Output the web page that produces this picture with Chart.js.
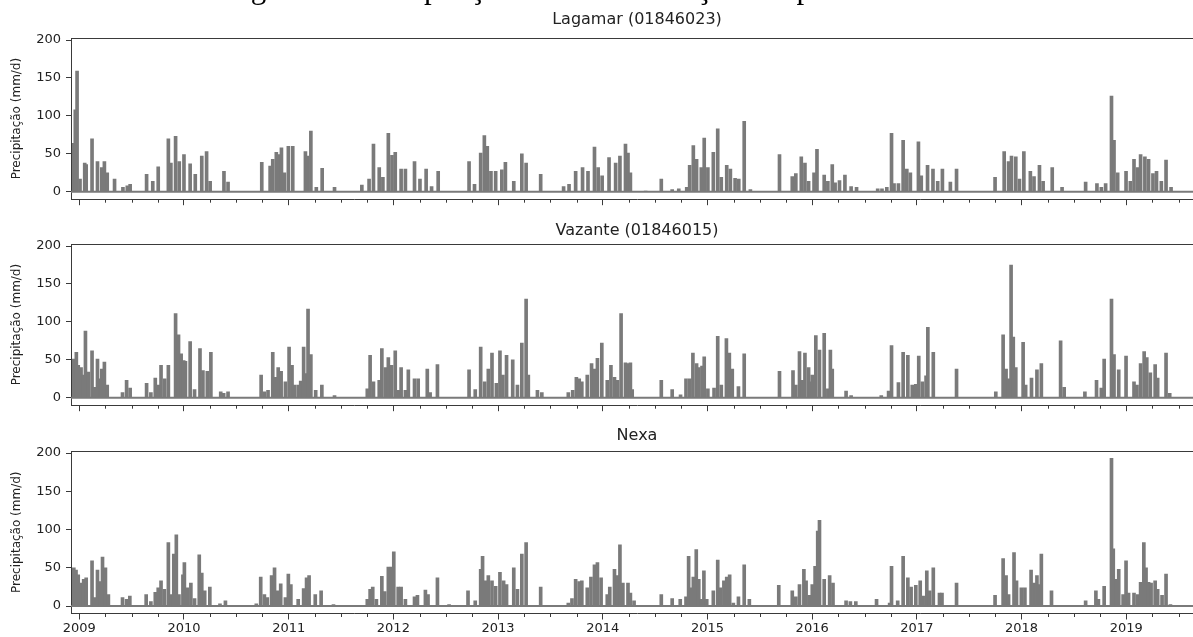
<!DOCTYPE html>
<html>
<head>
<meta charset="utf-8">
<script src="https://cdn.jsdelivr.net/npm/chart.js@4/dist/chart.umd.min.js"></script>
<style>
  html, body { margin: 0; padding: 0; background: #fff; }
  body { width: 1193px; height: 637px; overflow: hidden; position: relative; }
  .box { position: absolute; left: 0; width: 1203px; }
  #caption { position: absolute; left: 225px; top: -28px; font-family: 'Liberation Serif', serif; font-size: 31px; line-height: 31px; color: #000; white-space: nowrap; z-index: 5; }
</style>
</head>
<body>
<div id="caption">Figura 3 – Precipitação diária nas estações de pluviometria</div>
<div class="box" style="top:0px;height:212px"><canvas id="c1"></canvas></div>
<div class="box" style="top:206px;height:212px"><canvas id="c2"></canvas></div>
<div class="box" style="top:413px;height:224px"><canvas id="c3"></canvas></div>
<script>
// ---------------- data (decimal year, mm/d) ----------------
const stationTitles = ["Lagamar (01846023)", "Vazante (01846015)", "Nexa"];
const yAxisLabel = "Precipitação (mm/d)";
const yearTicks = [2009, 2010, 2011, 2012, 2013, 2014, 2015, 2016, 2017, 2018, 2019];
const yTicks = [0, 50, 100, 150, 200];
const xLimits = [2008.921, 2019.733];
const yLimits = [-9.65, 202.65];

const lagamarDates = [2008.948,2008.962,2008.979,2009.007,2009.052,2009.066,2009.122,2009.174,2009.215,2009.240,2009.267,2009.337,2009.417,2009.459,2009.486,
2009.643,2009.702,2009.754,2009.851,2009.875,2009.920,2009.955,2010.000,2010.059,2010.108,2010.170,2010.216,2010.250,2010.382,2010.421,
2010.743,2010.823,2010.848,2010.882,2010.907,2010.931,2010.959,2010.997,2011.039,2011.160,2011.178,2011.212,2011.264,2011.320,2011.438,
2011.699,2011.768,2011.810,2011.865,2011.900,2011.952,2011.987,2012.018,2012.074,2012.115,2012.202,2012.254,2012.313,2012.365,2012.428,
2012.723,2012.775,2012.834,2012.869,2012.897,2012.932,2012.977,2013.036,2013.070,2013.150,2013.227,2013.268,2013.407,
2013.626,2013.678,2013.741,2013.807,2013.859,2013.921,2013.956,2013.994,2014.060,2014.123,2014.164,2014.217,2014.241,2014.264,2014.410,
2014.559,2014.663,2014.726,2014.802,2014.830,2014.865,2014.896,2014.941,2014.969,2015.004,2015.056,2015.098,2015.132,2015.184,2015.219,2015.264,2015.299,2015.351,2015.410,
2015.688,2015.810,2015.844,2015.896,2015.931,2015.966,2016.018,2016.046,2016.115,2016.150,2016.192,2016.219,2016.261,2016.313,2016.372,2016.424,
2016.626,2016.667,2016.713,2016.758,2016.782,2016.824,2016.869,2016.904,2016.938,2017.015,2017.042,2017.102,2017.154,2017.199,2017.244,2017.320,2017.379,
2017.747,2017.834,2017.876,2017.904,2017.945,2017.980,2018.022,2018.084,2018.119,2018.171,2018.206,2018.293,2018.387,
2018.612,2018.720,2018.762,2018.803,2018.859,2018.883,2018.918,2018.998,2019.039,2019.074,2019.109,2019.137,2019.178,2019.213,2019.255,2019.289,2019.335,2019.380,2019.428];
const lagamarValues = [64,108,159,17,38,36,70,40,32,40,25,17,6,8,10,
23,14,33,70,38,73,40,49,37,23,47,53,14,27,13,
39,34,43,52,49,58,25,60,60,53,47,80,6,31,6,
9,17,63,32,19,77,48,52,30,30,40,17,30,7,27,
40,10,51,74,60,27,27,29,39,14,50,38,23,
7,10,27,32,27,59,32,21,45,38,47,63,51,25,1,
17,3,4,6,35,61,43,32,71,32,52,83,19,35,30,18,17,93,3,
49,20,24,46,38,14,25,56,22,14,36,12,15,22,7,6,
4,4,6,77,11,11,68,30,25,66,21,35,30,14,30,13,30,
19,53,40,47,46,17,53,27,20,35,14,32,6,
13,11,6,11,126,68,25,27,14,43,32,49,46,43,24,27,14,42,6];

const vazanteDates = [2008.948,2008.972,2008.990,2009.017,2009.042,2009.059,2009.087,2009.122,2009.146,2009.174,2009.198,2009.215,2009.240,2009.267,2009.413,2009.452,2009.486,
2009.643,2009.684,2009.726,2009.754,2009.781,2009.816,2009.851,2009.920,2009.948,2009.973,2009.997,2010.014,2010.059,2010.101,2010.153,2010.181,2010.223,2010.257,2010.351,2010.379,2010.421,
2010.737,2010.768,2010.803,2010.848,2010.875,2010.900,2010.928,2010.969,2011.004,2011.032,2011.056,2011.091,2011.115,2011.143,2011.164,2011.185,2011.212,2011.258,2011.317,2011.438,
2011.751,2011.778,2011.810,2011.865,2011.890,2011.924,2011.952,2011.983,2012.018,2012.046,2012.074,2012.115,2012.143,2012.202,2012.237,2012.324,2012.351,2012.421,
2012.723,2012.782,2012.834,2012.872,2012.907,2012.942,2012.984,2013.018,2013.046,2013.081,2013.140,2013.185,2013.227,2013.268,2013.289,2013.376,2013.418,
2013.671,2013.713,2013.748,2013.775,2013.800,2013.852,2013.893,2013.921,2013.949,2013.991,2014.043,2014.078,2014.112,2014.140,2014.175,2014.217,2014.241,2014.264,2014.281,
2014.559,2014.663,2014.743,2014.795,2014.830,2014.861,2014.896,2014.917,2014.948,2014.969,2015.004,2015.063,2015.098,2015.132,2015.181,2015.209,2015.237,2015.296,2015.351,
2015.688,2015.817,2015.844,2015.879,2015.907,2015.931,2015.966,2015.983,2016.001,2016.035,2016.070,2016.115,2016.150,2016.174,2016.192,2016.324,2016.372,
2016.660,2016.730,2016.758,2016.824,2016.869,2016.914,2016.956,2016.990,2017.018,2017.053,2017.088,2017.105,2017.157,2017.379,
2017.754,2017.824,2017.852,2017.876,2017.900,2017.921,2017.945,2018.015,2018.039,2018.095,2018.147,2018.189,2018.373,2018.407,
2018.605,2018.716,2018.762,2018.789,2018.859,2018.883,2018.928,2018.998,2019.074,2019.102,2019.137,2019.171,2019.196,2019.230,2019.276,2019.300,2019.380,2019.415];
const vazanteValues = [51,60,43,40,30,88,34,62,14,51,25,38,47,17,7,23,13,
19,7,26,17,43,25,43,111,83,58,49,48,74,11,65,36,35,60,8,6,8,
30,8,10,60,27,40,35,21,67,43,17,17,22,67,32,117,57,10,17,3,
12,56,21,23,65,40,53,43,62,10,40,10,37,25,25,38,7,44,
37,11,67,21,38,59,19,62,30,56,50,17,72,130,30,10,7,
7,10,27,25,21,30,45,38,52,72,23,43,27,23,111,46,45,46,11,
23,11,4,25,25,59,45,40,42,54,12,13,81,17,78,59,38,15,58,
35,36,17,61,23,59,40,21,30,82,63,85,12,63,38,9,3,
3,9,69,20,60,56,17,18,55,21,29,93,60,38,
8,83,38,25,175,80,40,73,17,26,37,45,75,14,
8,23,13,51,130,57,37,55,21,17,45,61,53,33,44,26,59,6];

const nexaDates = [2008.948,2008.969,2008.990,2009.017,2009.042,2009.066,2009.122,2009.146,2009.174,2009.198,2009.222,2009.250,2009.278,2009.413,2009.452,2009.483,
2009.639,2009.684,2009.726,2009.754,2009.781,2009.813,2009.851,2009.875,2009.903,2009.927,2009.952,2009.990,2010.004,2010.032,2010.066,2010.101,2010.146,2010.170,2010.198,2010.247,2010.344,2010.396,
2010.691,2010.733,2010.768,2010.796,2010.837,2010.865,2010.893,2010.924,2010.969,2010.997,2011.021,2011.091,2011.143,2011.171,2011.195,2011.254,2011.310,2011.428,
2011.751,2011.778,2011.803,2011.838,2011.890,2011.917,2011.952,2011.983,2012.004,2012.046,2012.074,2012.115,2012.202,2012.230,2012.306,2012.331,2012.421,2012.532,
2012.713,2012.782,2012.834,2012.852,2012.879,2012.907,2012.942,2012.977,2013.018,2013.053,2013.081,2013.150,2013.185,2013.227,2013.268,2013.407,
2013.671,2013.706,2013.741,2013.775,2013.800,2013.852,2013.887,2013.921,2013.949,2013.984,2014.043,2014.067,2014.112,2014.140,2014.164,2014.192,2014.241,2014.264,2014.299,
2014.559,2014.663,2014.740,2014.795,2014.820,2014.844,2014.865,2014.893,2014.917,2014.941,2014.966,2014.993,2015.056,2015.098,2015.125,2015.157,2015.184,2015.212,2015.247,2015.296,2015.351,2015.400,
2015.681,2015.810,2015.844,2015.879,2015.921,2015.942,2015.973,2016.001,2016.028,2016.053,2016.070,2016.115,2016.167,2016.199,2016.324,2016.365,2016.417,
2016.615,2016.740,2016.758,2016.817,2016.869,2016.914,2016.945,2016.990,2017.032,2017.060,2017.095,2017.122,2017.157,2017.216,2017.240,2017.379,
2017.747,2017.824,2017.852,2017.876,2017.928,2017.952,2017.998,2018.032,2018.091,2018.119,2018.147,2018.164,2018.189,2018.286,
2018.612,2018.710,2018.734,2018.789,2018.859,2018.876,2018.901,2018.928,2018.970,2018.998,2019.022,2019.074,2019.109,2019.137,2019.168,2019.189,2019.213,2019.237,2019.276,2019.300,2019.342,2019.380,2019.422];
const nexaValues = [50,47,41,30,35,37,59,11,47,32,64,50,15,11,9,13,
15,6,18,24,33,22,83,15,68,93,15,41,57,24,30,10,67,43,20,25,3,7,
3,38,15,11,40,50,20,29,11,42,28,9,23,37,40,15,20,2,
9,22,25,9,39,19,51,51,71,25,25,9,12,14,21,15,37,2,
20,7,48,65,33,40,33,26,44,33,28,50,22,68,83,25,
4,10,35,32,33,24,38,54,57,37,15,25,48,40,80,30,30,17,7,
15,10,9,12,65,24,38,74,35,9,46,9,20,60,24,33,38,41,4,12,54,9,
27,20,12,28,48,33,14,28,52,98,112,35,40,30,7,6,6,
9,4,52,7,65,37,25,27,33,13,46,20,50,17,17,30,
14,62,40,15,70,33,24,24,47,30,40,28,68,20,
7,20,9,26,193,75,35,48,15,59,17,17,15,31,83,50,31,30,33,22,14,42,2];

// ---------------- rendering ----------------
const FONT = "'DejaVu Sans', sans-serif";
const GRAY = 'rgb(122,122,122)';
const AXIS = '#3a3a3a';

const framePlugin = {
  id: 'frame',
  afterDraw(chart, args, opts) {
    const ctx = chart.ctx, a = chart.chartArea, xs = chart.scales.x;
    ctx.save();
    ctx.strokeStyle = AXIS; ctx.lineWidth = 1;
    ctx.beginPath(); ctx.moveTo(a.left, a.top + 0.5); ctx.lineTo(a.right, a.top + 0.5); ctx.stroke();
    for (let y = yearTicks[0]; y <= yearTicks[yearTicks.length - 1]; y++) {
      for (const q of [0.25, 0.5, 0.75]) {
        const v = y + q;
        if (v < xs.min || v > xs.max) continue;
        const px = Math.round(xs.getPixelForValue(v)) + 0.5;
        ctx.beginPath(); ctx.moveTo(px, a.bottom); ctx.lineTo(px, a.bottom + 3.5); ctx.stroke();
      }
    }
    ctx.fillStyle = '#222';
    ctx.font = '16px ' + FONT;
    ctx.textAlign = 'center'; ctx.textBaseline = 'middle';
    ctx.fillText(opts.title, (a.left + a.right) / 2, a.top - opts.titleGap);
    ctx.restore();
  }
};

function makeChart(id, title, dates, values, showX, xAxisH, titleGap) {
  const bars = dates.map((d, i) => ({ x: d, y: values[i] }));
  return new Chart(document.getElementById(id), {
    type: 'bar',
    data: {
      datasets: [
        { type: 'line', data: [{ x: xLimits[0], y: 0 }, { x: xLimits[1], y: 0 }], borderColor: GRAY, borderWidth: 2, pointRadius: 0, order: 2 },
        { type: 'bar', data: bars, backgroundColor: GRAY, borderWidth: 0, barThickness: 3, grouped: false, order: 1 }
      ]
    },
    options: {
      responsive: true, maintainAspectRatio: false, animation: false, devicePixelRatio: 1,
      layout: { padding: { top: 38, left: 0, right: 0, bottom: 0 } },
      plugins: { legend: { display: false }, tooltip: { enabled: false }, title: { display: false }, frame: { title: title, titleGap: titleGap } },
      scales: {
        x: {
          type: 'linear', min: xLimits[0], max: xLimits[1], offset: false,
          afterBuildTicks: s => { s.ticks = yearTicks.map(v => ({ value: v })); },
          afterFit: s => { s.height = xAxisH; },
          ticks: { display: showX, autoSkip: false, maxRotation: 0, padding: 1, color: '#222', font: { family: FONT, size: 13 }, callback: v => String(v) },
          grid: { drawOnChartArea: false, offset: false, tickLength: 6, tickColor: AXIS },
          border: { display: true, color: AXIS, width: 1 }
        },
        y: {
          min: yLimits[0], max: yLimits[1],
          afterBuildTicks: s => { s.ticks = yTicks.map(v => ({ value: v })); },
          afterFit: s => { s.width = 71; },
          ticks: { padding: 5, color: '#222', font: { family: FONT, size: 13 } },
          grid: { drawOnChartArea: false, tickLength: 5, tickColor: AXIS },
          border: { display: true, color: AXIS, width: 1 },
          title: { display: true, text: yAxisLabel, color: '#222', font: { family: FONT, size: 12 }, padding: { top: 10, bottom: 0 } }
        }
      }
    },
    plugins: [framePlugin]
  });
}

makeChart('c1', stationTitles[0], lagamarDates, lagamarValues, false, 11, 18);
makeChart('c2', stationTitles[1], vazanteDates, vazanteValues, false, 11, 13);
makeChart('c3', stationTitles[2], nexaDates, nexaValues, true, 23.5, 15);
</script>
</body>
</html>
